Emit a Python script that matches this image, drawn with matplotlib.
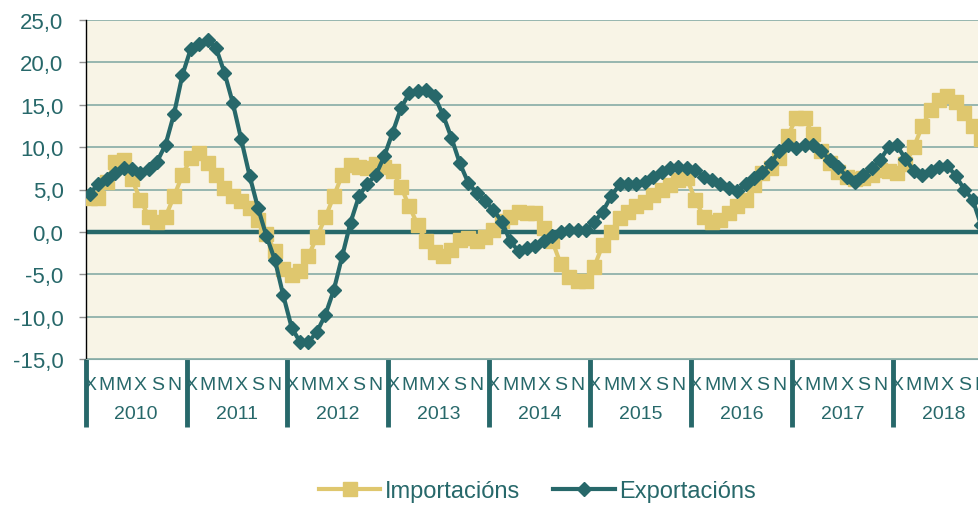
import matplotlib.pyplot as plt
from matplotlib.lines import Line2D
from matplotlib.transforms import blended_transform_factory

plt.rcParams['font.family'] = ['Liberation Sans', 'DejaVu Sans']

years = ["2010", "2011", "2012", "2013", "2014", "2015", "2016", "2017", "2018"]
month_labels = ["X", "", "M", "", "M", "", "X", "", "S", "", "N", ""]

# Monthly rates, Jan 2010 onwards (last months of 2018 fall off the picture)
exportacions = [
    4.5, 5.7, 6.2, 6.9, 7.5, 7.4, 7.0, 7.4, 8.3, 10.3, 13.9, 18.5,
    21.6, 22.2, 22.6, 21.7, 18.8, 15.2, 10.9, 6.6, 2.8, -0.5, -3.3, -7.5,
    -11.3, -13.0, -13.0, -11.8, -9.8, -6.9, -2.9, 1.1, 4.2, 5.7, 6.7, 8.9,
    11.7, 14.6, 16.4, 16.6, 16.7, 16.0, 13.8, 11.1, 8.1, 5.8, 4.6, 3.6,
    2.6, 1.2, -1.1, -2.3, -1.9, -1.7, -1.1, -0.5, 0.0, 0.2, 0.2, 0.2,
    1.2, 2.4, 4.2, 5.6, 5.7, 5.7, 5.9, 6.5, 7.1, 7.5, 7.7, 7.5,
    7.3, 6.5, 6.1, 5.7, 5.2, 4.8, 5.6, 6.3, 7.1, 8.1, 9.5, 10.2,
    9.9, 10.2, 10.2, 9.5, 8.5, 7.7, 6.5, 5.9, 6.7, 7.5, 8.5, 10.0,
    10.2, 8.6, 7.2, 6.7, 7.2, 7.7, 7.8, 6.6, 5.0, 3.8, 0.8,
]
importacions = [
    4.0, 4.0, 5.9, 8.3, 8.5, 6.2, 3.8, 1.8, 1.2, 1.8, 4.2, 6.7,
    8.7, 9.3, 8.1, 6.7, 5.2, 4.2, 3.6, 2.8, 1.4, -0.3, -2.3, -4.4,
    -5.1, -4.6, -2.8, -0.6, 1.7, 4.2, 6.7, 7.9, 7.7, 7.5, 8.0, 7.6,
    7.2, 5.3, 3.0, 0.8, -1.1, -2.4, -2.9, -2.1, -0.9, -0.7, -1.1, -0.6,
    0.2, 1.3, 1.8, 2.3, 2.2, 2.2, 0.4, -1.1, -3.8, -5.3, -5.8, -5.8,
    -4.1, -1.5, 0.0, 1.6, 2.4, 3.0, 3.5, 4.3, 4.9, 5.5, 6.1, 6.3,
    3.8, 1.8, 1.2, 1.4, 2.2, 3.0, 3.8, 5.5, 6.9, 7.5, 8.7, 11.3,
    13.4, 13.4, 11.5, 9.5, 8.1, 7.1, 6.5, 6.2, 6.3, 6.7, 7.3, 7.2,
    6.9, 8.0, 10.0, 12.5, 14.4, 15.6, 16.0, 15.3, 14.0, 12.5, 11.0,
]

teal = "#27686a"
gold = "#dfc76e"
grid_col = "#86aba6"

W, H = 979, 506
fig = plt.figure(figsize=(W / 100, H / 100), dpi=100)
# axes run past the right edge, as in the original crop
ax = fig.add_axes([85.7 / W, 146 / H, 908 / W, 339 / H])
ax.set_facecolor("#f8f4e6")

n_months = len(years) * 12
ax.set_xlim(-0.5, n_months - 0.5)
ax.set_ylim(-15, 25)

yt = list(range(-15, 26, 5))
ax.set_yticks(yt)
ax.set_yticklabels([f"{v:.1f}".replace(".", ",") for v in yt])
for v in yt:
    if v != 0:
        ax.axhline(v, color=grid_col, lw=1.2, zorder=1)
ax.axhline(0, color=teal, lw=3.2, zorder=2)

ax.tick_params(axis="y", length=5, width=1, color="#909090", pad=11,
               labelsize=16, labelcolor=teal)

ax.set_xticks(range(n_months))
ax.set_xticklabels(month_labels * len(years))
ax.tick_params(axis="x", length=0, pad=12, labelsize=14, labelcolor=teal)

for s in ["top", "right"]:
    ax.spines[s].set_visible(False)
ax.spines["left"].set_color("black")
ax.spines["left"].set_linewidth(1)
ax.spines["bottom"].set_color(grid_col)

x = list(range(len(importacions)))
ax.plot(x, importacions, color=gold, lw=3, marker="s", ms=9.5, zorder=3)
ax.plot(x, exportacions, color=teal, lw=3, marker="D", ms=7.2, zorder=4)

# year separators and labels below the axis
tr = blended_transform_factory(ax.transData, ax.transAxes)
for k, yr in enumerate(years):
    ax.plot([k * 12 - 0.5] * 2, [0, -0.2], color=teal, lw=3.5,
            transform=tr, clip_on=False, solid_capstyle="butt")
    ax.text(k * 12 + 5.5, -0.16, yr, transform=tr, ha="center", va="center",
            fontsize=14, color=teal)

handles = [
    Line2D([], [], color=gold, lw=3, marker="s", ms=9.5),
    Line2D([], [], color=teal, lw=3, marker="D", ms=7.2),
]
fig.legend(handles, ["Importacións", "Exportacións"], loc="center",
           bbox_to_anchor=(0.549, 0.028), ncol=2, frameon=False,
           fontsize=17, labelcolor=teal, handlelength=2.6,
           handletextpad=0.2, columnspacing=1.4)

fig.savefig("out.png", dpi=100)
